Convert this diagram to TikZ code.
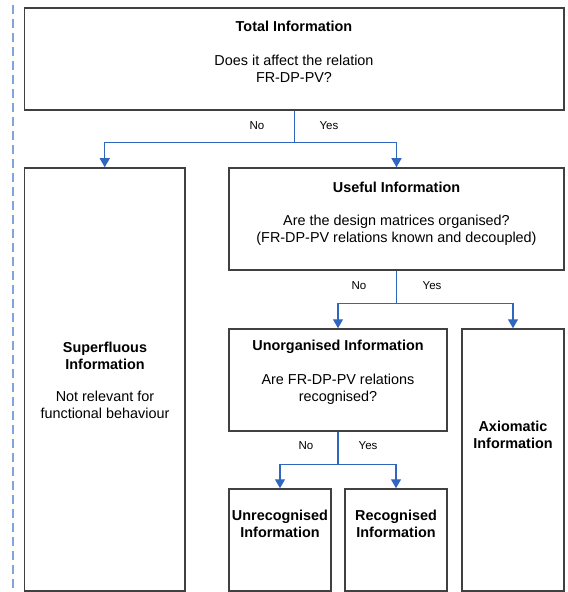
\documentclass[tikz,border=0pt]{standalone}
\usepackage{fontspec}
\setmainfont{Liberation Sans}
\usetikzlibrary{arrows.meta}
\definecolor{boxgray}{HTML}{404040}
\definecolor{flowblue}{HTML}{2F66BE}
\definecolor{dashblue}{HTML}{7FA6DA}

\begin{document}
\begin{tikzpicture}[x=1bp, y=-1bp, >={Triangle[width=10bp,length=9bp]},
        box/.style={draw=boxgray, line width=1.5bp, inner sep=0pt},
        txt/.style={align=center, inner sep=0pt, font=\fontsize{14.4bp}{17bp}\selectfont},
        head/.style={txt, font=\fontsize{14.4bp}{17bp}\selectfont\bfseries},
        lbl/.style={inner sep=0pt, font=\fontsize{11.5bp}{14bp}\selectfont},
        flow/.style={->, draw=flowblue, line width=1.3bp}]
    \useasboundingbox (0,0) rectangle (568,592);
    \draw[dashblue, line width=2.4bp, dash pattern=on 9bp off 5bp] (13,5) -- (13,592);

    % boxes
    \node[box, minimum width=539.5bp, minimum height=102bp] (total) at (294.25,59) {};
    \node[box, minimum width=160.5bp, minimum height=423bp] (superfl) at (104.75,379.5) {};
    \node[box, minimum width=335bp, minimum height=102bp] (useful) at (396.5,219) {};
    \node[box, minimum width=218bp, minimum height=102bp] (unorg) at (338,380) {};
    \node[box, minimum width=102bp, minimum height=262bp] (axiom) at (513,460) {};
    \node[box, minimum width=102bp, minimum height=102bp] (unrec) at (280,540) {};
    \node[box, minimum width=102bp, minimum height=102bp] (rec) at (396,540) {};

    % texts
    \node[head] (total-t) at (294,26) {Total Information};
    \node[txt] (total-q) at (294,68.5) {Does it affect the relation\\FR-DP-PV?};
    \node[head] (superfl-t) at (105,355.5) {Superfluous\\Information};
    \node[txt] (superfl-q) at (105,405) {Not relevant for\\functional behaviour};
    \node[head] (useful-t) at (396.5,187) {Useful Information};
    \node[txt] (useful-q) at (396.5,230.5) {Are the design matrices organised?\\(FR-DP-PV relations known and decoupled)};
    \node[head] (unorg-t) at (338,347) {Unorganised Information};
    \node[txt] (unorg-q) at (338,389.5) {Are FR-DP-PV relations\\recognised?};
    \node[head] (axiom-t) at (513,435) {Axiomatic\\Information};
    \node[head] (unrec-t) at (280,524) {Unrecognised\\Information};
    \node[head] (rec-t) at (396,524) {Recognised\\Information};

    % connectors
    \path (total.south) ++(0,32) coordinate (j1);
    \draw[flow] (total.south) -- (j1) -| (superfl.north);
    \draw[flow] (j1) -| (useful.north);
    \node[lbl] (no1) at (257,126) {No};
    \node[lbl] (yes1) at (329,126) {Yes};

    \path (useful.south) ++(0,32.5) coordinate (j2);
    \draw[flow] (useful.south) -- (j2) -| (unorg.north);
    \draw[flow] (j2) -| (axiom.north);
    \node[lbl] (no2) at (359,286) {No};
    \node[lbl] (yes2) at (432,286) {Yes};

    \path (unorg.south) ++(0,33) coordinate (j3);
    \draw[flow] (unorg.south) -- (j3) -| (unrec.north);
    \draw[flow] (j3) -| (rec.north);
    \node[lbl] (no3) at (306,446) {No};
    \node[lbl] (yes3) at (368,446) {Yes};
\end{tikzpicture}
\end{document}
